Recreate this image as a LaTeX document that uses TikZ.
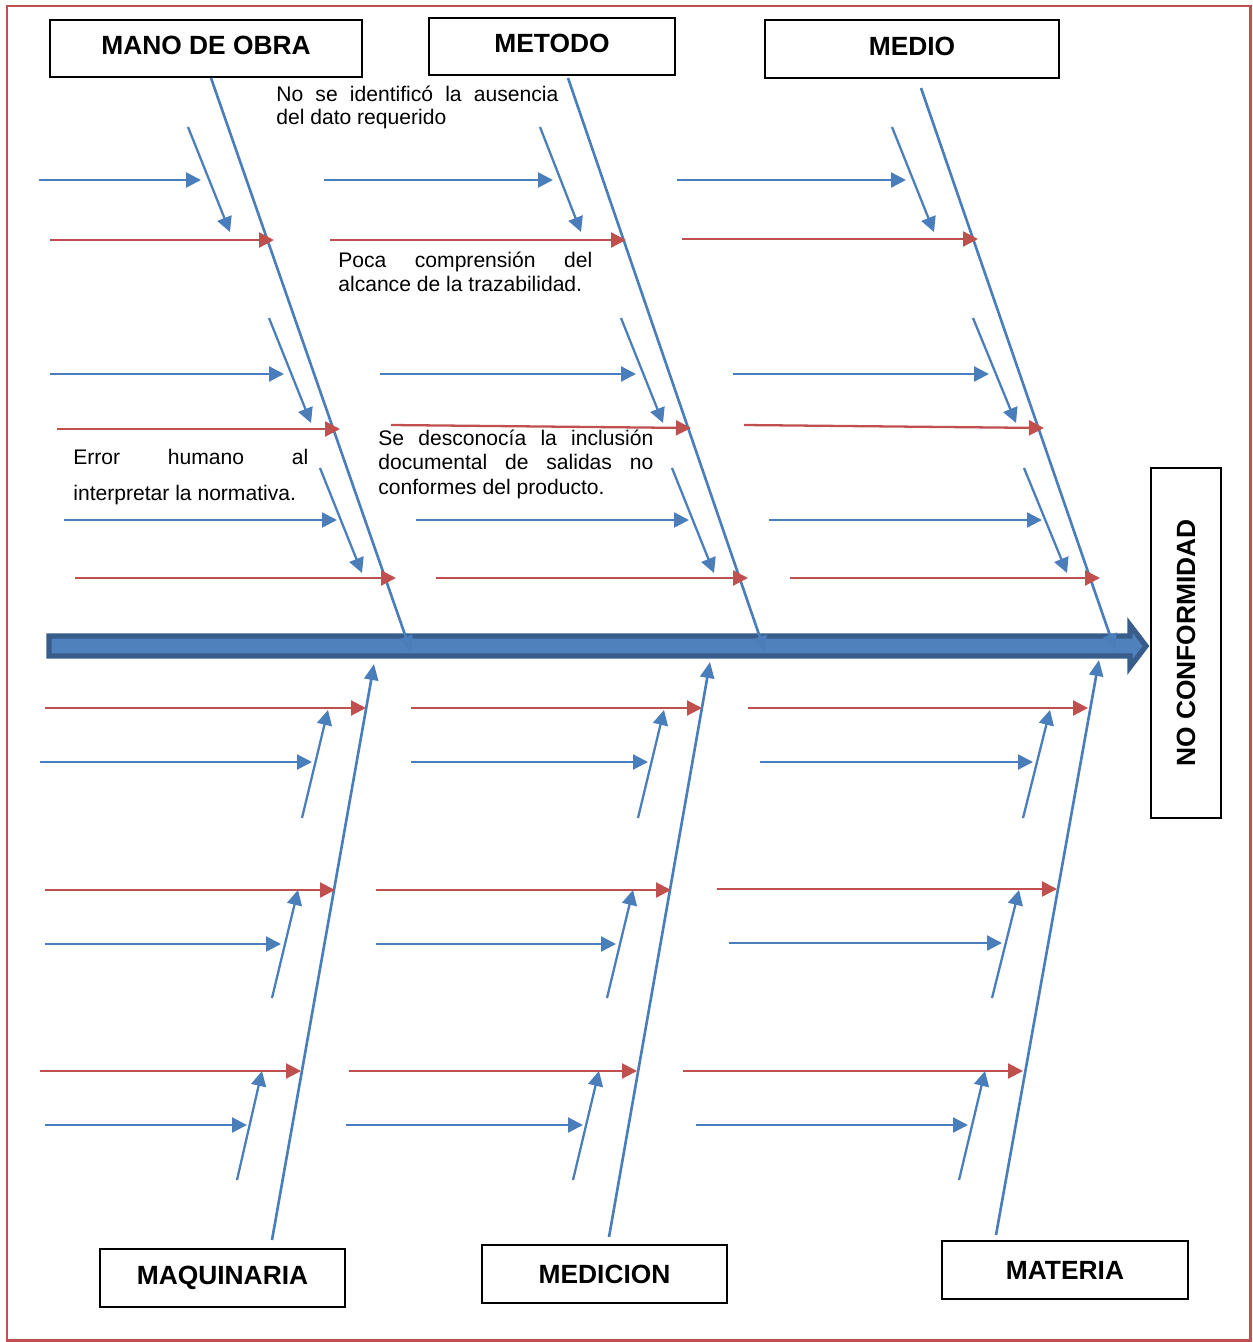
\documentclass[tikz,border=0pt]{standalone}
\usepackage{fontspec}
\setmainfont{Liberation Sans}
\usetikzlibrary{arrows.meta,positioning}
\definecolor{fbblue}{RGB}{74,126,187}
\definecolor{fbred}{RGB}{192,80,77}
\definecolor{fbdark}{RGB}{56,93,138}
\definecolor{fbspine}{RGB}{79,129,189}
\hyphenpenalty=10000
\exhyphenpenalty=10000

\begin{document}
\begin{tikzpicture}[x=0.02cm,y=-0.02cm,
  cat/.style={draw=black,line width=0.8pt,inner sep=0pt,font=\fontsize{15}{18}\selectfont\bfseries},
  note/.style={inner sep=0pt,align=justify,anchor=base west},
  bone/.style={fbblue,line width=1.5pt,-{Triangle[length=0.32cm,width=0.28cm]}},
  cause/.style={fbblue,line width=1.3pt,-{Triangle[length=0.3cm,width=0.3cm]}},
  keycause/.style={fbred,line width=1.3pt,-{Triangle[length=0.3cm,width=0.3cm]}}]
  \useasboundingbox (0,0) rectangle (1253,1342);
  % Frame
  \draw[fbred,line width=1.7pt] (7,6) rectangle (1250,1340);

  % Category boxes
  \node[cat,text depth=0.12cm,minimum width=6.24cm,minimum height=1.14cm] (mano) at (206,48.5) {MANO DE OBRA};
  \node[cat,text depth=0.12cm,minimum width=4.92cm,minimum height=1.14cm] (metodo) at (552,46.5) {METODO};
  \node[cat,text depth=0.12cm,minimum width=5.88cm,minimum height=1.16cm] (medio) at (912,49) {MEDIO};
  \node[cat,minimum width=4.9cm,minimum height=1.16cm] (maquinaria) at (222.5,1278) {MAQUINARIA};
  \node[cat,minimum width=4.9cm,minimum height=1.16cm] (medicion) at (604.5,1274) {MEDICION};
  \node[cat,minimum width=4.92cm,minimum height=1.16cm] (materia) at (1065,1270) {MATERIA};
  \node[cat,minimum width=1.4cm,minimum height=7cm] (efecto) at (1186,643) {\rotatebox{90}{NO CONFORMIDAD}};

  % Spine
  \fill[fbspine,draw=fbdark,line width=3pt] (49,636) -- (1130,636) -- (1130,625)
    -- (1146,646) -- (1130,667) -- (1130,656) -- (49,656) -- cycle;

  % Main bones
  \coordinate (manoA) at (211,78);    \coordinate (manoB) at (411,652);
  \coordinate (metodoA) at (568,78);  \coordinate (metodoB) at (765,652);
  \coordinate (medioA) at (921,88);   \coordinate (medioB) at (1115,650);
  \coordinate (maqA) at (272,1240);   \coordinate (maqB) at (374,664);
  \coordinate (medA) at (609,1237);   \coordinate (medB) at (710,662);
  \coordinate (matA) at (996,1235);   \coordinate (matB) at (1099,660);
  \draw[bone] (manoA) -- (manoB);
  \draw[bone] (metodoA) -- (metodoB);
  \draw[bone] (medioA) -- (medioB);
  \draw[bone] (maqA) -- (maqB);
  \draw[bone] (medA) -- (medB);
  \draw[bone] (matA) -- (matB);

  % Secondary causes (blue)
  \foreach \xa/\y/\xb [count=\i] in {39/180/201, 50/374/284, 64/520/337,
      324/180/553, 380/374/636, 416/520/689,
      677/180/906, 733/374/989, 769/520/1042,
      40/762/312, 45/944/281, 45/1125/247,
      411/762/648, 376/944/616, 346/1125/583,
      760/762/1033, 729/943/1002, 696/1125/968} {
    \coordinate (hs\i) at (\xa,\y);
    \coordinate (he\i) at (\xb,\y);
    \draw[cause] (hs\i) -- (he\i);
  }

  % Main causes (red)
  \foreach \xa/\ya/\xb/\yb [count=\i] in {50/240/274/240, 57/429/340/429, 75/578/396/578,
      330/240/626/240, 391/425/691/428, 436/578/748/578,
      682/239/978/239, 744/425/1044/428, 790/578/1100/578,
      45/708/366/708, 45/890/335/890, 40/1071/301/1071,
      411/708/702/708, 376/890/671/890, 349/1071/637/1071,
      748/708/1088/708, 717/889/1057/889, 683/1071/1023/1071} {
    \coordinate (rs\i) at (\xa,\ya);
    \coordinate (re\i) at (\xb,\yb);
    \draw[keycause] (rs\i) -- (re\i);
  }

  % Sub-causes along the bones
  \foreach \xa/\ya/\xb/\yb [count=\i] in {188/127/230/232, 269/318/311/423, 320/468/362/573,
      540/127/581/232, 621/318/663/423, 672/468/714/573,
      892/127/934/232, 973/318/1016/423, 1024/468/1067/573,
      302/818/328/710, 272/998/298/890, 237/1180/262/1071,
      638/818/664/710, 607/998/633/890, 573/1180/599/1071,
      1023/818/1050/710, 992/998/1019/890, 959/1180/985/1071} {
    \coordinate (ds\i) at (\xa,\ya);
    \coordinate (de\i) at (\xb,\yb);
    \draw[cause] (ds\i) -- (de\i);
  }

  % Notes
  \node[note,text width=5.64cm,font=\fontsize{12}{13.6}\selectfont] (dato) at (276,101)
    {No se identificó la ausencia\linebreak del dato requerido};
  \node[note,text width=5.08cm,font=\fontsize{12}{14.2}\selectfont] (alcance) at (338,267)
    {Poca comprensión del\linebreak alcance de la trazabilidad.};
  \node[note,text width=5.5cm,font=\fontsize{12}{14.2}\selectfont] (salidas) at (378,445)
    {Se desconocía la inclusión\linebreak documental de salidas no\linebreak conformes del producto.};
  \node[note,text width=4.7cm,font=\fontsize{12}{21}\selectfont] (error) at (73,464)
    {Error humano al\linebreak interpretar la normativa.};
\end{tikzpicture}
\end{document}
